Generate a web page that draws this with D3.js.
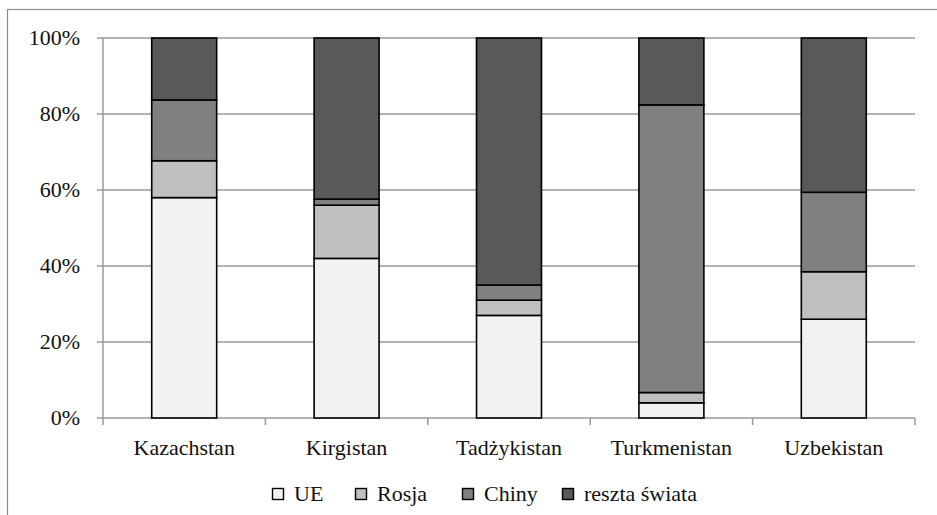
<!DOCTYPE html>
<html><head><meta charset="utf-8">
<script src="https://cdn.jsdelivr.net/npm/d3@7/dist/d3.min.js"></script>
</head><body style="margin:0;background:#fff"><svg id="c" width="937" height="515"></svg>
<script>
const categories = ["Kazachstan","Kirgistan","Tadżykistan","Turkmenistan","Uzbekistan"];
const seriesNames = ["UE","Rosja","Chiny","reszta świata"];
const UE = [58, 42, 27, 4, 26];
const Rosja = [9.7, 14, 4, 2.7, 12.5];
const Chiny = [16, 1.6, 4, 75.7, 20.9];
const reszta = [16.3, 42.4, 65, 17.6, 40.6];
const yTicks = [0, 20, 40, 60, 80, 100];
const colors = ["#f2f2f2","#bfbfbf","#808080","#595959"];
const FONT = "Times New Roman";
const FS = 22;

const svg = d3.select("#c");
const m = {l:103, r:915, t:38, b:418};
svg.append("rect").attr("x",7.5).attr("y",9.5).attr("width",940).attr("height",520)
  .attr("fill","none").attr("stroke","#8c8c8c").attr("stroke-width",1.2);

const x = d3.scaleBand().domain(categories).range([m.l, m.r]).paddingInner(0.6).paddingOuter(0.3);
const y = d3.scaleLinear().domain([0,100]).range([m.b, m.t]);

svg.append("g").selectAll("line").data(yTicks.filter(d=>d>0)).join("line")
  .attr("x1",m.l).attr("x2",m.r).attr("y1",d=>y(d)).attr("y2",d=>y(d))
  .attr("stroke","#9a9a9a").attr("stroke-width",1.5);

// y axis drawn manually from scale
const yg = svg.append("g");
yg.append("line").attr("x1",m.l).attr("x2",m.l).attr("y1",y(0)).attr("y2",y(100))
  .attr("stroke","#9a9a9a").attr("stroke-width",1.5);
yg.selectAll("line.t").data(yTicks).join("line").attr("class","t")
  .attr("x1",m.l-6).attr("x2",m.l).attr("y1",d=>y(d)).attr("y2",d=>y(d))
  .attr("stroke","#9a9a9a").attr("stroke-width",1.5);
yg.selectAll("text").data(yTicks).join("text")
  .attr("x",m.l-23).attr("y",d=>y(d)+7).attr("text-anchor","end")
  .attr("font-family",FONT).attr("font-size",FS).attr("fill","#111")
  .text(d=>d+"%");

// x axis
const xg = svg.append("g");
xg.append("line").attr("x1",m.l).attr("x2",m.r).attr("y1",m.b).attr("y2",m.b)
  .attr("stroke","#9a9a9a").attr("stroke-width",1.5);
const bounds = d3.range(categories.length+1).map(i=>m.l + i*(m.r-m.l)/categories.length);
xg.selectAll("line.t").data(bounds).join("line").attr("class","t")
  .attr("x1",d=>d).attr("x2",d=>d).attr("y1",m.b).attr("y2",m.b+7)
  .attr("stroke","#9a9a9a").attr("stroke-width",1.5);
xg.selectAll("text").data(categories).join("text")
  .attr("x",d=>x(d)+x.bandwidth()/2).attr("y",m.b+37).attr("text-anchor","middle")
  .attr("font-family",FONT).attr("font-size",FS).attr("fill","#111")
  .text(d=>d);

const rows = categories.map((c,i)=>({cat:c, UE:UE[i], Rosja:Rosja[i], Chiny:Chiny[i], "reszta świata":reszta[i]}));
const stack = d3.stack().keys(seriesNames)(rows);
svg.append("g").selectAll("g").data(stack).join("g")
  .attr("fill",(d,i)=>colors[i])
  .selectAll("rect").data(d=>d).join("rect")
  .attr("x",d=>x(d.data.cat)).attr("width",x.bandwidth())
  .attr("y",d=>y(d[1])).attr("height",d=>y(d[0])-y(d[1]))
  .attr("stroke","#000").attr("stroke-width",1.6);

const legX = [272, 355, 462, 562];
const lg = svg.append("g");
seriesNames.forEach((s,i)=>{
  lg.append("rect").attr("x",legX[i]+0.5).attr("y",488.5).attr("width",11).attr("height",11)
    .attr("fill",colors[i]).attr("stroke","#000").attr("stroke-width",1.4);
  lg.append("text").attr("x",legX[i]+22).attr("y",501).attr("font-family",FONT).attr("font-size",FS).attr("fill","#111").text(s);
});
</script></body></html>
